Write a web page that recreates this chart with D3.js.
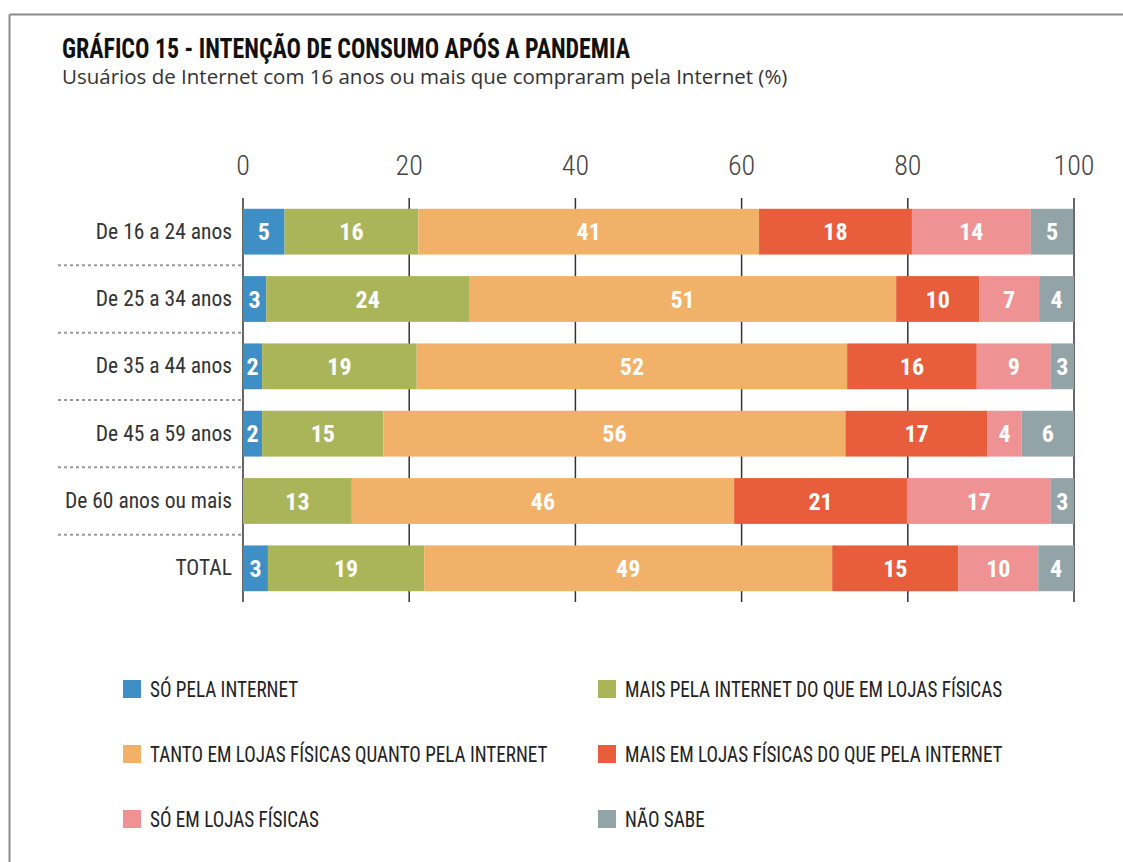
<!DOCTYPE html>
<html><head><meta charset="utf-8">
<script src="https://cdn.jsdelivr.net/npm/d3@7"></script>
<style>
body{margin:0;background:#fff;}
</style></head>
<body><svg id="c" width="1123" height="862"></svg>
<script>
const categories=["De 16 a 24 anos","De 25 a 34 anos","De 35 a 44 anos","De 45 a 59 anos","De 60 anos ou mais","TOTAL"];
const seriesNames=["SÓ PELA INTERNET","MAIS PELA INTERNET DO QUE EM LOJAS FÍSICAS","TANTO EM LOJAS FÍSICAS QUANTO PELA INTERNET","MAIS EM LOJAS FÍSICAS DO QUE PELA INTERNET","SÓ EM LOJAS FÍSICAS","NÃO SABE"];
const soPelaInternet=[5.0,2.8,2.3,2.3,0,3.0];
const maisInternet=[16.1,24.4,18.6,14.6,13.1,18.8];
const tanto=[41.0,51.4,51.8,55.6,46.0,49.1];
const maisLojas=[18.4,10.0,15.6,17.1,20.8,15.2];
const soLojas=[14.3,7.2,8.9,4.1,17.3,9.6];
const naoSabe=[5.1,4.2,2.8,6.3,2.8,4.3];
const xTicks=[0,20,40,60,80,100];
const colors=["#3d8fc5","#aab55a","#f2b168","#e85d3b","#ef9293","#93a4a9"];

const series=[soPelaInternet,maisInternet,tanto,maisLojas,soLojas,naoSabe];
const svg=d3.select("#c");
const font='"Roboto Condensed","Liberation Sans Narrow","DejaVu Sans Condensed",sans-serif';

// frame
svg.append("line").attr("x1",9.5).attr("x2",1123).attr("y1",14.5).attr("y2",14.5).attr("stroke","#8a8a8a").attr("stroke-width",2);
svg.append("line").attr("x1",9.5).attr("x2",9.5).attr("y1",14.5).attr("y2",862).attr("stroke","#8a8a8a").attr("stroke-width",2);

svg.append("text").attr("transform","translate(62,58) scale(0.87,1)").attr("font-family",font).attr("font-weight","bold").attr("font-size",27.5).attr("fill","#111").style("font-stretch","condensed")
  .text("GRÁFICO 15 - INTENÇÃO DE CONSUMO APÓS A PANDEMIA");
svg.append("text").attr("x",62).attr("y",84).attr("font-family","'Open Sans','Noto Sans',sans-serif").attr("font-size",20.5).attr("fill","#333")
  .text("Usuários de Internet com 16 anos ou mais que compraram pela Internet (%)");

const x=d3.scaleLinear().domain([0,100]).range([243,1074]);
const y=d3.scaleBand().domain(categories).range([198,602]).paddingInner(0.32).paddingOuter(0.16);

// tick labels
svg.append("g").selectAll("text").data(xTicks).join("text")
  .attr("x",d=>x(d)).attr("y",175).attr("text-anchor","middle").attr("font-family",font).attr("font-size",28).attr("fill","#444")
  .style("font-weight","300").text(d=>d);
// tick lines
svg.append("g").selectAll("line").data(xTicks).join("line")
  .attr("x1",d=>x(d)).attr("x2",d=>x(d)).attr("y1",198).attr("y2",602).attr("stroke","#333").attr("stroke-width",1.5);

// separators
const seps=categories.slice(0,-1);
svg.append("g").selectAll("line").data(seps).join("line")
  .attr("x1",58).attr("x2",243).attr("y1",d=>y(d)+y.bandwidth()+y.step()*0.16).attr("y2",d=>y(d)+y.bandwidth()+y.step()*0.16)
  .attr("stroke","#999").attr("stroke-width",2).attr("stroke-dasharray","3,3");

// category labels
svg.append("g").selectAll("text").data(categories).join("text")
  .attr("x",232).attr("y",d=>y(d)+y.bandwidth()/2+7).attr("text-anchor","end").attr("font-family",font).attr("font-size",21.5).attr("fill","#333")
  .text(d=>d);

// stacked bars
const rows=categories.map((c,i)=>{let acc=0;return series.map((s,k)=>{const v=s[i];const o={cat:c,k,x0:acc,x1:acc+v,v};acc+=v;return o;});});
const segs=rows.flat().filter(d=>d.v>0);
svg.append("g").selectAll("rect").data(segs).join("rect")
  .attr("x",d=>x(d.x0)).attr("width",d=>x(d.x1)-x(d.x0)).attr("y",d=>y(d.cat)).attr("height",y.bandwidth()).attr("fill",d=>colors[d.k]);
svg.append("g").selectAll("text").data(segs).join("text")
  .attr("x",d=>(x(d.x0)+x(d.x1))/2).attr("y",d=>y(d.cat)+y.bandwidth()/2+8.5).attr("text-anchor","middle")
  .attr("font-family",font).attr("font-weight","bold").attr("font-size",24).attr("fill","#fff").text(d=>Math.round(d.v));

// legend
const lg=svg.append("g").selectAll("g").data(seriesNames).join("g")
  .attr("transform",(d,i)=>`translate(${i%2===0?123:598},${680+Math.floor(i/2)*65})`);
lg.append("rect").attr("width",18).attr("height",18).attr("fill",(d,i)=>colors[i]);
lg.append("text").attr("transform","translate(27,17) scale(0.89,1)").attr("font-family",font).attr("font-size",21.5).attr("fill","#222").text(d=>d);
</script></body></html>
